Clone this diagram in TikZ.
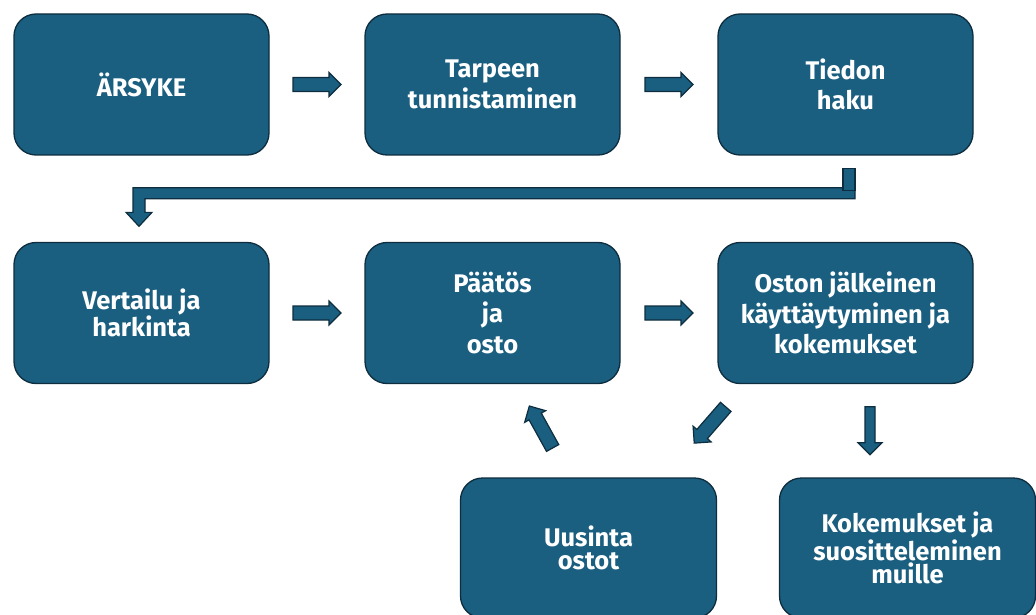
\documentclass[tikz,border=0pt]{standalone}
\usepackage{fontspec}
\setsansfont{Fira Sans}
\usetikzlibrary{calc}
\definecolor{boxfill}{RGB}{26,94,128}
\definecolor{boxline}{RGB}{14,45,62}
\tikzset{
  stage/.style={draw=boxline, line width=1.3pt, fill=boxfill, rounded corners=22pt,
    minimum width=255pt, minimum height=141pt, inner sep=0pt, align=center,
    text=white, font=\sffamily\bfseries\fontsize{25.5}{30.5}\selectfont},
  tight/.style={font=\sffamily\bfseries\fontsize{25.5}{23.5}\selectfont},
  arr/.style={draw=boxline, line width=1.2pt, fill=boxfill, line join=miter},
  pics/blk/.style={code={\filldraw[arr] (-24,-#1) -- (12,-#1) -- (12,-12) -- (24,0) -- (12,12) -- (12,#1) -- (-24,#1) -- cycle;}}
}
\begin{document}
\begin{tikzpicture}[x=1pt,y=-1pt]
\useasboundingbox (0,0) rectangle (1036,615);
\node[stage] (A) at (141.5,84.5) {ÄRSYKE};
\node[stage] (B) at (492.5,84.5) {Tarpeen\\tunnistaminen};
\node[stage] (C) at (845.5,84.5) {Tiedon\\haku};
\node[stage,tight] (D) at (141.5,313) {Vertailu ja\\harkinta};
\node[stage] (E) at (492.5,313) {Päätös\\ja\\osto};
\node[stage] (F) at (845.5,313) {Oston jälkeinen\\käyttäytyminen ja\\kokemukset};
\node[stage,tight,minimum width=256pt,minimum height=140pt] (G) at (588.5,548) {Uusinta\\ostot};
\node[stage,tight,minimum width=256pt,minimum height=140pt] (H) at (907.5,548) {Kokemukset ja\\suositteleminen\\muille};
% straight block arrows
\pic at ($(A.east)!0.5!(B.west)$) {blk=7};
\pic at ($(B.east)!0.5!(C.west)$) {blk=7};
\pic at ($(D.east)!0.5!(E.west)$) {blk=7};
\pic at ($(E.east)!0.5!(F.west)$) {blk=7};
\pic[rotate=119] at (541,427) {blk=7};
\pic[rotate=-131] at (710,425) {blk=7};
\pic[rotate=-90] at ($(F.south)!0.5!(H.north)+(-6.5,0)$) {blk=5};
% bent arrow from C to D
\coordinate (cs) at ($(C.south)+(9.5,32)$);
\coordinate (dt) at ($(D.north)+(-2.5,-15.5)$);
\filldraw[arr] (cs) -- ++(0,11) -| ($(dt)+(6,-14)$) -- ($(dt)+(13,-14)$) -- (dt)
  -- ($(dt)+(-13,-14)$) -- ($(dt)+(-6,-14)$) |- (cs) -- cycle;
\filldraw[arr] ($(C.south)+(-2.5,13)$) rectangle ($(C.south)+(9.5,35)$);
\end{tikzpicture}
\end{document}
